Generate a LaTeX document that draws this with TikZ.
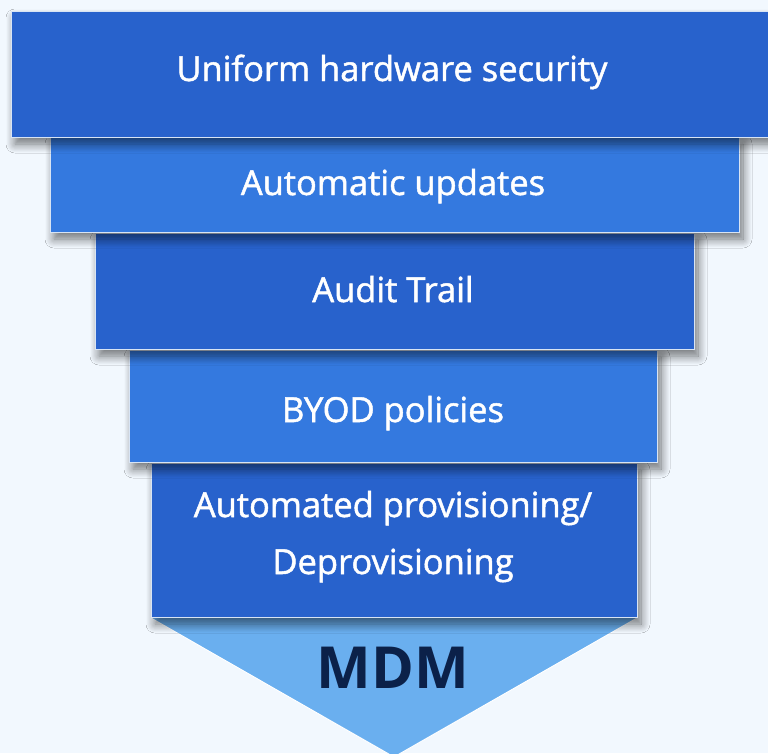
\documentclass[tikz,border=0pt]{standalone}
\usepackage{fontspec}
\setmainfont{Open Sans}
\newfontfamily\layerfont{Open Sans}[FakeBold=1.4]
\usetikzlibrary{shadows.blur}
\definecolor{bgc}{HTML}{F2F8FE}
\definecolor{darkb}{HTML}{2862CC}
\definecolor{lightb}{HTML}{3479DF}
\definecolor{trib}{HTML}{6AAFEF}
\definecolor{mdmc}{HTML}{0B2149}
\definecolor{edgec}{HTML}{D8E4F4}
\tikzset{
  layer/.style={draw=edgec, line width=1pt, inner sep=0pt,
    blur shadow={shadow xshift=4pt, shadow yshift=-7pt, shadow blur radius=9pt, shadow blur steps=12, shadow opacity=55}},
  darklayer/.style={layer, fill=darkb},
  lightlayer/.style={layer, fill=lightb},
  ltext/.style={text=white, anchor=base, inner sep=0pt, font=\layerfont\fontsize{34.5}{40}\selectfont},
}
\begin{document}
\begin{tikzpicture}[x=1pt,y=-1pt]
\fill[bgc] (0,0) rectangle (768,753);
\useasboundingbox (0,0) rectangle (768,753);
% triangle
\coordinate (tl) at (151,618);
\coordinate (tr) at (637,618);
\coordinate (tp) at (394,757);
\fill[trib] (tl) -- (tr) -- (tp) -- cycle;
\draw[white, line width=1pt] (tl) -- (tp) -- (tr);
\node[text=mdmc, font=\fontsize{58}{64}\selectfont\bfseries] (mdm) at (393,668) {MDM};
% layers, bottom first
\node[darklayer, minimum width=486pt, minimum height=154pt] (l5) at (394,540) {};
\node[ltext] (t5a) at (393,517) {Automated provisioning/};
\node[ltext] (t5b) at (393,574) {Deprovisioning};
\node[lightlayer, minimum width=528pt, minimum height=112pt] (l4) at (393,406) {};
\node[ltext] (t4) at (393,422) {BYOD policies};
\node[darklayer, minimum width=599pt, minimum height=116pt] (l3) at (394.5,291) {};
\node[ltext] (t3) at (393,302) {Audit Trail};
\node[lightlayer, minimum width=689pt, minimum height=95pt] (l2) at (394.5,184.5) {};
\node[ltext] (t2) at (393,195) {Automatic updates};
\node[darklayer, minimum width=762pt, minimum height=126pt] (l1) at (392,74) {};
\node[ltext] (t1) at (392,81) {Uniform hardware security};
\end{tikzpicture}
\end{document}
